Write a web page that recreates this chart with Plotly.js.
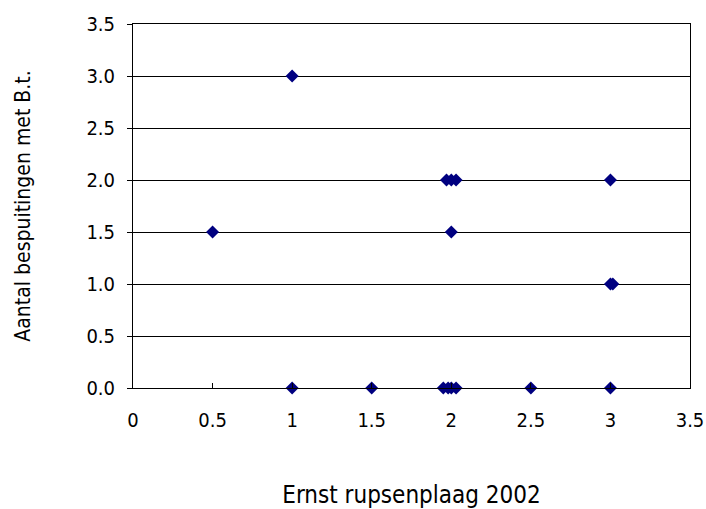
<!DOCTYPE html>
<html><head><meta charset="utf-8">
<script src="https://cdn.plot.ly/plotly-3.0.1.min.js"></script>
<style>body{margin:0;padding:0;background:#fff}#chart{width:706px;height:509px}
#chart text{font-stretch:condensed !important;}</style>
</head><body><div id="chart"></div>
<script>
var xValues = [1, 0.5, 1.97, 2.0, 2.03, 2.0, 3.0, 3.0, 3.015, 1.0, 1.5, 1.95, 1.98, 2.0, 2.03, 2.5, 3.0];
var yValues = [3, 1.5, 2, 2, 2, 1.5, 2, 1, 1, 0, 0, 0, 0, 0, 0, 0, 0];
var xTitle = "Ernst rupsenplaag 2002";
var yTitle = "Aantal bespuitingen met B.t.";
var fontFam = "DejaVu Sans Condensed, DejaVu Sans, sans-serif";

Plotly.newPlot('chart', [{
  x: xValues, y: yValues, type: 'scatter', mode: 'markers',
  marker: {symbol: 'diamond', size: 10, color: '#000080', line: {width: 0}},
  cliponaxis: false, hoverinfo: 'x+y'
}], {
  width: 706, height: 509,
  margin: {l: 133, r: 16, t: 24, b: 121},
  paper_bgcolor: '#fff', plot_bgcolor: '#fff',
  showlegend: false,
  font: {family: fontFam, size: 20, color: '#000'},
  xaxis: {
    range: [0, 3.5], dtick: 0.5, tick0: 0, showgrid: false, zeroline: false,
    showline: true, linecolor: '#000', linewidth: 1, mirror: true,
    ticks: 'inside', ticklen: 5, tickcolor: '#000', ticklabelstandoff: 14,
    tickfont: {family: fontFam, size: 20},
    title: {text: xTitle, font: {family: fontFam, size: 24}, standoff: 60}
  },
  yaxis: {
    range: [0, 3.5], dtick: 0.5, tick0: 0, tickformat: '.1f',
    showgrid: true, gridcolor: '#000', gridwidth: 1, zeroline: false,
    showline: true, linecolor: '#000', linewidth: 1, mirror: true,
    ticks: 'outside', ticklen: 5, tickcolor: '#000', ticklabelstandoff: 8,
    tickfont: {family: fontFam, size: 20},
    title: {text: yTitle, font: {family: fontFam, size: 21}, standoff: 50}
  }
}, {displayModeBar: false, staticPlot: true});
</script></body></html>
